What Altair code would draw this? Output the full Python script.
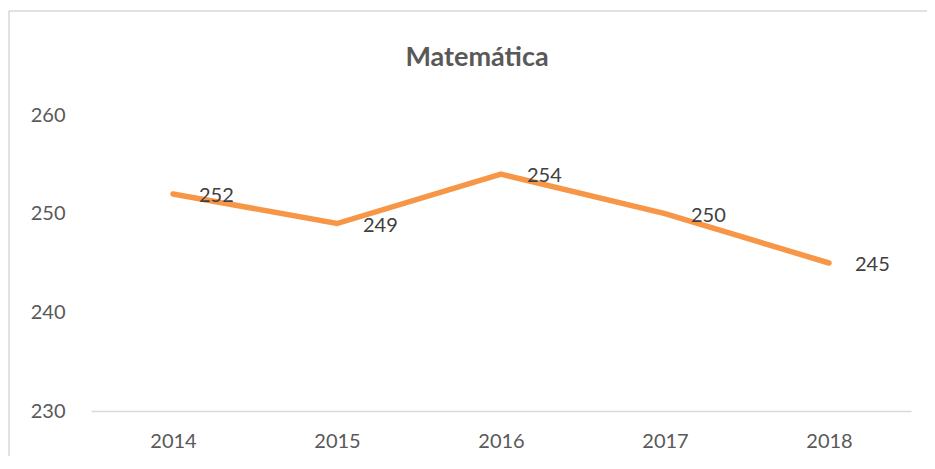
import altair as alt
import pandas as pd

years = ["2014", "2015", "2016", "2017", "2018"]
values = [252, 249, 254, 250, 245]
title_text = "Matemática"

df = pd.DataFrame({"year": years, "value": values})

FONT = "Lato"

x = alt.X("year:N", sort=years, title=None,
          scale=alt.Scale(paddingInner=0, paddingOuter=0.5),
          axis=alt.Axis(labelAngle=0, labelFont=FONT, labelFontSize=20,
                        labelColor="#595959", labelPadding=20, ticks=False,
                        domainColor="#D9D9D9", domainWidth=1.5))
y = alt.Y("value:Q", title=None,
          scale=alt.Scale(domain=[230, 260], nice=False, zero=False),
          axis=alt.Axis(values=[230, 240, 250, 260], labelFont=FONT, labelFontSize=20,
                        labelColor="#595959", labelPadding=26, ticks=False,
                        domain=False, grid=False))

base = alt.Chart(df)

line = base.mark_line(color="#F79646", strokeWidth=5.5, strokeCap="round").encode(x=x, y=y)
labels = base.mark_text(align="left", baseline="middle", dx=26, dy=2,
                        font=FONT, fontSize=20, color="#404040").encode(
    x=alt.X("year:N", sort=years), y="value:Q", text="value:Q")

one = pd.DataFrame({"a": [0]})
top_edge = alt.Chart(one).mark_rule(color="#D9D9D9", strokeWidth=1.5, clip=False).encode(
    x=alt.value(-82), x2=alt.value(836), y=alt.value(-104))
left_edge = alt.Chart(one).mark_rule(color="#D9D9D9", strokeWidth=1.5, clip=False).encode(
    x=alt.value(-82), y=alt.value(-104), y2=alt.value(341))

title = alt.Chart(pd.DataFrame({"t": [title_text]})).mark_text(
    font=FONT, fontSize=27, fontWeight="bold", color="#595959",
    align="center", baseline="middle").encode(
    x=alt.value(386), y=alt.value(-57), text="t:N")

chart = alt.layer(top_edge, left_edge, line, labels, title).properties(
    width=820, height=296,
    padding={"left": 83, "top": 107, "right": 16, "bottom": 45},
    autosize=alt.AutoSizeParams(type="none"),
).configure_view(stroke=None)

chart.save("out.html", embed_options={"renderer": "svg", "actions": False})
